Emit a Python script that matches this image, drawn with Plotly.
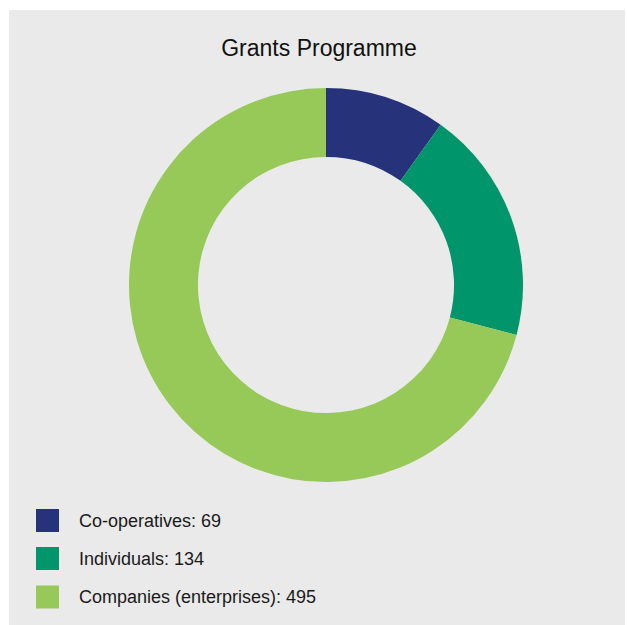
import plotly.graph_objects as go

# Grants awarded by recipient type
labels = ["Co-operatives", "Individuals", "Companies (enterprises)"]
values = [69, 134, 495]
colors = ["#26327A", "#00956A", "#96C957"]

W, H = 627, 625
FONT = "Liberation Sans, Arial, Helvetica, sans-serif"

fig = go.Figure(
    go.Pie(
        labels=labels,
        values=values,
        hole=0.65,
        sort=False,
        direction="clockwise",
        rotation=0,
        marker=dict(colors=colors, line=dict(width=0)),
        textinfo="none",
        showlegend=False,
        domain=dict(x=[129 / W, 523 / W], y=[1 - 482 / H, 1 - 88 / H]),
    )
)

# grey panel behind the chart
shapes = [
    dict(type="rect", xref="paper", yref="paper",
         x0=9 / W, x1=625 / W, y0=0, y1=1 - 10 / H,
         fillcolor="#EAEAEA", line=dict(width=0), layer="below")
]

# hand-drawn legend: coloured squares with label and count
annotations = []
row_centres = [520.5, 558.5, 597]
for lab, val, col, yc in zip(labels, values, colors, row_centres):
    shapes.append(dict(type="rect", xref="paper", yref="paper",
                       x0=36 / W, x1=59 / W,
                       y0=1 - (yc + 11.5) / H, y1=1 - (yc - 11.5) / H,
                       fillcolor=col, line=dict(width=0)))
    annotations.append(dict(xref="paper", yref="paper",
                            x=77 / W, y=1 - yc / H,
                            xanchor="left", yanchor="middle",
                            text=f"{lab}: {val}", showarrow=False,
                            font=dict(family=FONT, size=18, color="#1a1a1a")))

fig.update_layout(
    width=W, height=H,
    margin=dict(l=0, r=0, t=0, b=0),
    paper_bgcolor="white",
    title=dict(text="Grants Programme", x=319 / W, xanchor="center",
               y=1 - 48 / H, yanchor="middle", xref="paper", yref="paper",
               font=dict(family=FONT, size=23, color="#111111")),
    shapes=shapes,
    annotations=annotations,
)

fig.write_html("out.html")
